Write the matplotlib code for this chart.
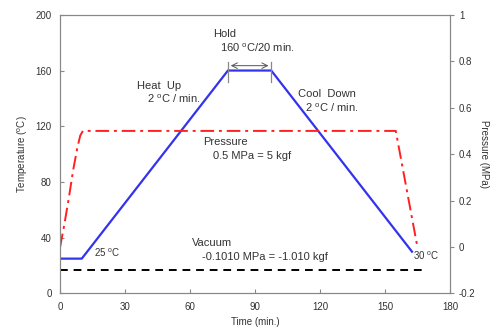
import matplotlib
matplotlib.use("Agg")
import matplotlib.pyplot as plt

plt.rcParams["font.family"] = ["Liberation Sans", "DejaVu Sans"]

# Temperature profile (min, degC)
time_temp = [0, 10, 77.5, 97.5, 162.5]
temp = [25, 25, 160, 160, 30]

# Pressure profile (min, MPa)
time_press = [0, 2, 4, 6, 8, 9.3, 10.5, 155, 165]
press = [0.0, 0.1, 0.21, 0.33, 0.43, 0.48, 0.5, 0.5, 0.0]

# Vacuum line (min, MPa)
time_vac = [0, 168.5]
vac = [-0.101, -0.101]

deg = r"$^{\mathregular{o}}$C"
gray = "#888888"
txt = "#333333"

fig, ax = plt.subplots(figsize=(5.01, 3.29), dpi=100)
fig.subplots_adjust(left=0.12, right=0.898, top=0.955, bottom=0.108)

ax.plot(time_temp, temp, color="#3333ee", lw=1.6)
ax.set_xlim(0, 180)
ax.set_ylim(0, 200)
ax.set_xticks(range(0, 181, 30))
ax.set_yticks(range(0, 201, 40))
ax.tick_params(direction="in", length=3, color=gray, labelsize=7, labelcolor=txt, pad=6)
ax.set_xlabel("Time (min.)", fontsize=7, color=txt)
ax.set_ylabel("Temperature (" + deg + ")", fontsize=7, color=txt)
for s in ax.spines.values():
    s.set_color(gray)

ax2 = ax.twinx()
ax2.plot(time_press, press, color="#ff2020", lw=1.4, ls=(0, (7, 2.5, 1.5, 2.5)))
ax2.plot(time_vac, vac, color="black", lw=1.4, ls=(0, (4, 3)))
ax2.set_ylim(-0.2, 1)
ax2.set_yticks([-0.2, 0, 0.2, 0.4, 0.6, 0.8, 1])
ax2.set_yticklabels(["-0.2", "0", "0.2", "0.4", "0.6", "0.8", "1"])
ax2.tick_params(direction="out", length=3, color=gray, labelsize=7, labelcolor=txt)
ax2.set_ylabel("Pressure (MPa)", fontsize=7, color=txt, rotation=270, labelpad=10)
for s in ax2.spines.values():
    s.set_color(gray)

# hold marker
ax.plot([77.5, 77.5], [152, 166], color=gray, lw=0.9)
ax.plot([97.5, 97.5], [152, 166], color=gray, lw=0.9)
ax.annotate("", xy=(77.5, 163.5), xytext=(97.5, 163.5),
            arrowprops=dict(arrowstyle="<->", color="#555555", lw=0.7))

fs = 8
ax.text(70.5, 186, "Hold", fontsize=fs, color=txt, va="center")
ax.text(74, 176, "160 " + deg + "/20 min.", fontsize=fs, color=txt, va="center")
ax.text(35.5, 149, "Heat  Up", fontsize=fs, color=txt, va="center")
ax.text(40, 139.5, "2 " + deg + " / min.", fontsize=fs, color=txt, va="center")
ax.text(110, 143, "Cool  Down", fontsize=fs, color=txt, va="center")
ax.text(113, 133, "2 " + deg + " / min.", fontsize=fs, color=txt, va="center")
ax.text(66, 109, "Pressure", fontsize=fs, color=txt, va="center")
ax.text(70.5, 99, "0.5 MPa = 5 kgf", fontsize=fs, color=txt, va="center")
ax.text(15.5, 29, "25 " + deg, fontsize=7, color=txt, va="center")
ax.text(61, 36, "Vacuum", fontsize=fs, color=txt, va="center")
ax.text(65.5, 26, "-0.1010 MPa = -1.010 kgf", fontsize=fs, color=txt, va="center")
ax.text(163, 27, "30 " + deg, fontsize=7, color=txt, va="center")

fig.savefig("out.png", dpi=100)
